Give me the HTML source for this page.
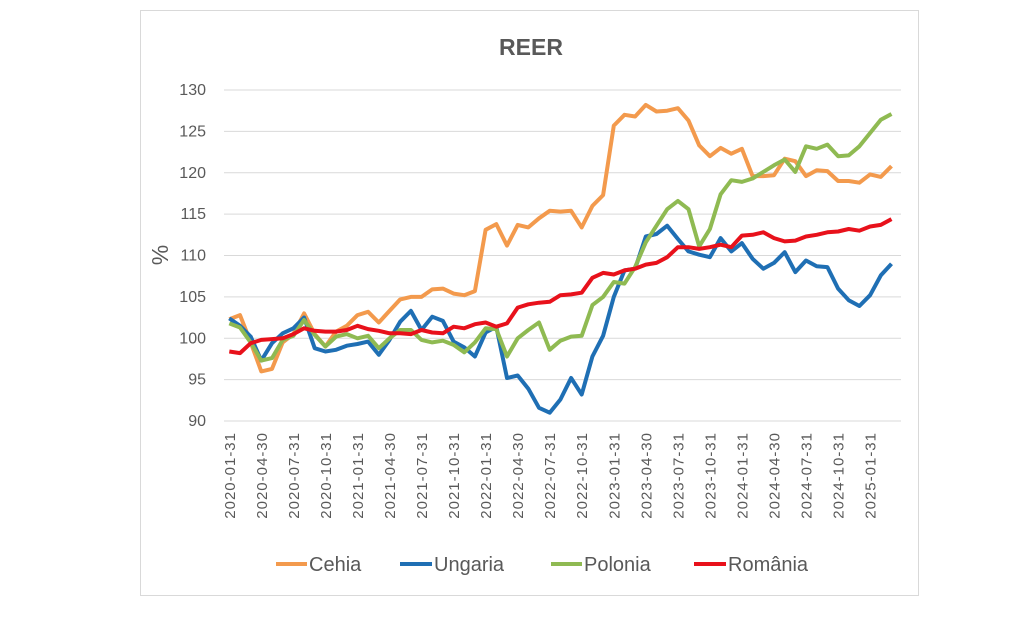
<!DOCTYPE html>
<html><head><meta charset="utf-8"><style>
body{margin:0;background:#fff;width:1024px;height:617px;overflow:hidden}
</style></head><body>
<svg id="s" width="1024" height="617" xmlns="http://www.w3.org/2000/svg" font-family="Liberation Sans, sans-serif">
<rect x="140.5" y="10.5" width="778" height="585" fill="#fff" stroke="#d9d9d9"/>
<text x="531" y="55" text-anchor="middle" font-size="23" font-weight="bold" fill="#595959">REER</text>
<text transform="translate(168,255) rotate(-90)" text-anchor="middle" font-size="23" fill="#595959">%</text>
<g id="g"></g>
<g font-size="20" fill="#595959">
<line x1="276" y1="564" x2="307" y2="564" stroke="#f39a4d" stroke-width="4"/><text x="309" y="571">Cehia</text>
<line x1="400" y1="564" x2="432" y2="564" stroke="#1f6fb4" stroke-width="4"/><text x="434" y="571">Ungaria</text>
<line x1="551" y1="564" x2="582" y2="564" stroke="#8fba52" stroke-width="4"/><text x="584" y="571">Polonia</text>
<line x1="694" y1="564" x2="726" y2="564" stroke="#e8111b" stroke-width="4"/><text x="728" y="571">România</text>
</g>
</svg>
<script>
const g=document.getElementById('g');let h='';
const Y=v=>90+(130-v)*8.275, X=i=>229.3+10.68*i;
for(let v=90;v<=130;v+=5){h+=`<line x1="224" x2="901" y1="${Y(v)}" y2="${Y(v)}" stroke="#d9d9d9" stroke-width="1"/>`;
h+=`<text x="206" y="${Y(v)+5}" text-anchor="end" font-size="16" fill="#595959">${v}</text>`;}
const labs=["2020-01-31","2020-04-30","2020-07-31","2020-10-31","2021-01-31","2021-04-30","2021-07-31","2021-10-31","2022-01-31","2022-04-30","2022-07-31","2022-10-31","2023-01-31","2023-04-30","2023-07-31","2023-10-31","2024-01-31","2024-04-30","2024-07-31","2024-10-31","2025-01-31"];
labs.forEach((l,k)=>{const x=X(3*k)+5.5;h+=`<text transform="translate(${x},432) rotate(-90)" text-anchor="end" font-size="15" letter-spacing="1" fill="#595959">${l}</text>`;});
const S=[
["#f39a4d",[102.3,102.8,99.5,96.0,96.3,99.5,100.5,103.0,100.5,99.0,100.8,101.5,102.8,103.2,101.9,103.3,104.7,105.0,105.0,105.9,106.0,105.4,105.2,105.7,113.1,113.8,111.2,113.7,113.4,114.5,115.4,115.3,115.4,113.4,116.0,117.3,125.7,127.0,126.8,128.2,127.4,127.5,127.8,126.3,123.3,122.0,123.0,122.3,122.9,119.6,119.6,119.7,121.7,121.4,119.6,120.3,120.2,119.0,119.0,118.8,119.8,119.5,120.8]],
["#1f6fb4",[102.4,101.5,100.2,97.3,99.4,100.6,101.2,102.5,98.8,98.4,98.6,99.1,99.3,99.6,98.0,99.8,102.0,103.3,101.0,102.6,102.1,99.6,98.9,97.8,100.7,101.4,95.2,95.5,93.9,91.6,91.0,92.6,95.2,93.2,97.8,100.3,105.0,108.2,108.4,112.3,112.6,113.6,112.0,110.5,110.1,109.8,112.1,110.5,111.5,109.6,108.4,109.1,110.4,108.0,109.4,108.7,108.6,106.0,104.6,103.9,105.2,107.6,109.0]],
["#8fba52",[101.8,101.3,99.5,97.3,97.6,99.8,100.3,102.2,100.4,99.0,100.2,100.5,100.0,100.3,98.8,100.0,101.0,101.0,99.8,99.5,99.7,99.2,98.3,99.5,101.2,101.1,97.8,100.0,101.0,101.9,98.6,99.7,100.2,100.3,104.0,105.0,106.8,106.6,108.6,111.6,113.6,115.6,116.6,115.6,111.1,113.2,117.4,119.1,118.9,119.3,120.1,120.9,121.6,120.1,123.2,122.9,123.4,122.0,122.1,123.2,124.8,126.4,127.1]],
["#e8111b",[98.4,98.2,99.4,99.8,99.9,100.0,100.5,101.2,100.9,100.8,100.8,101.0,101.5,101.1,100.9,100.6,100.6,100.5,101.0,100.7,100.6,101.4,101.2,101.7,101.9,101.4,101.8,103.7,104.1,104.3,104.4,105.2,105.3,105.5,107.3,107.9,107.7,108.2,108.4,108.9,109.1,109.8,111.0,111.0,110.8,111.0,111.3,111.0,112.4,112.5,112.8,112.1,111.7,111.8,112.3,112.5,112.8,112.9,113.2,113.0,113.5,113.7,114.4]]];
S.forEach(([c,d])=>{h+=`<polyline fill="none" stroke="${c}" stroke-width="4" stroke-linejoin="round" points="${d.map((v,i)=>X(i).toFixed(1)+','+Y(v).toFixed(1)).join(' ')}"/>`;});
g.innerHTML=h;
</script>
</body></html>
